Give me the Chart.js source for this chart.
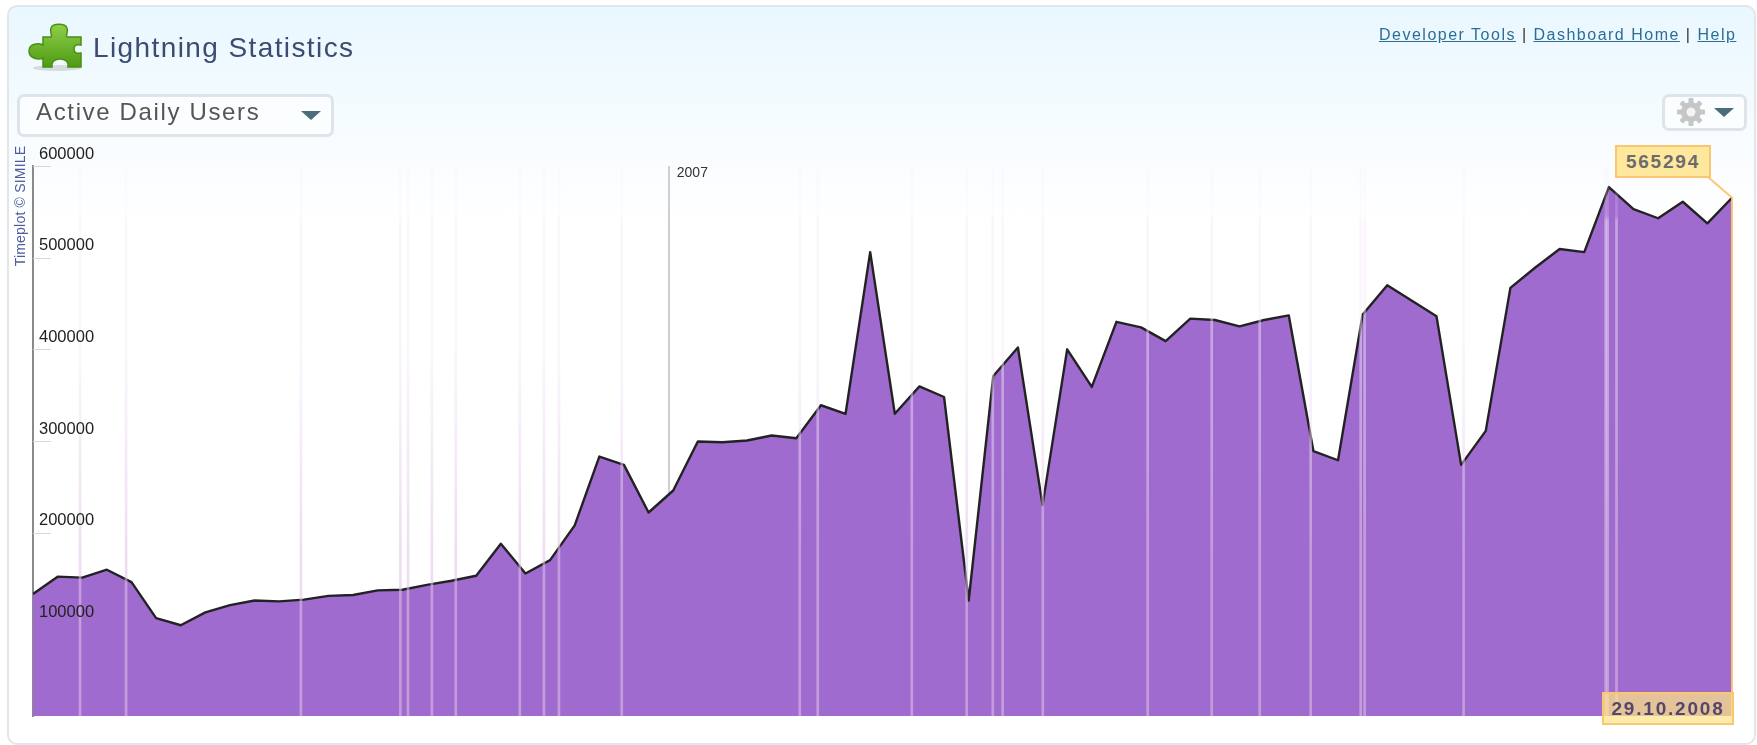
<!DOCTYPE html>
<html>
<head>
<meta charset="utf-8">
<title>Lightning Statistics</title>
<script src="https://cdn.jsdelivr.net/npm/chart.js@4/dist/chart.umd.min.js"></script>
<style>
  html, body { margin: 0; padding: 0; background: #fff; overflow: hidden; }
  body { width: 1757px; height: 745px; position: relative; font-family: "Liberation Sans", sans-serif; }
  #page { position: absolute; left: 0; top: 0; width: 1757px; height: 745px; filter: blur(0.5px); }
  #card { position: absolute; left: 7px; top: 5px; width: 1745px; height: 736px; border: 2px solid #e2e6ea; border-radius: 10px;
    background: linear-gradient(to bottom, #e9f7ff 0, #f6fcff 120px, #fbfdff 170px, #fff 215px, #fff 100%); }
  #chartBox { position: absolute; left: 0; top: 0; width: 1757px; height: 745px; }
  .abs { position: absolute; white-space: nowrap; }
  #title { left: 93px; top: 31px; font-size: 28px; line-height: 34px; color: #3b4c70; letter-spacing: 1.4px; }
  #links { left: 1379px; top: 26px; font-size: 16px; line-height: 18px; color: #333; letter-spacing: 1.5px; }
  #links a { color: #2c6d96; text-decoration: underline; }
  .box { position: absolute; border: 3px solid #dfe4e8; border-radius: 7px; background: rgba(255,255,255,.6); box-sizing: border-box; }
  #select { left: 17px; top: 94px; width: 317px; height: 43px; }
  #selectText { left: 36px; top: 97px; font-size: 24px; line-height: 30px; color: #555; letter-spacing: 1.65px; }
  #gear { left: 1662px; top: 94px; width: 85px; height: 37px; }
  .arrow { position: absolute; width: 0; height: 0; border-left: 10px solid transparent; border-right: 10px solid transparent; border-top: 9px solid #4c6c7a; }
  #credit { left: 20px; top: 206px; font-size: 14px; line-height: 14px; color: #4c5c9c; letter-spacing: .2px; transform: translate(-50%, -50%) rotate(-90deg); }
  .tag { position: absolute; box-sizing: border-box; border: 2px solid #fbc670; text-align: center; font-weight: bold; font-size: 19px; letter-spacing: 1.8px; }
  #valueTag { left: 1615px; top: 145px; width: 96px; height: 33px; line-height: 30px; background: #fee89e; color: #6c6c6c; }
  #dateTag { left: 1602px; top: 692px; width: 132px; height: 33px; line-height: 30px; background: rgba(255,229,135,.72); color: #55466a; }
</style>
</head>
<body>
<div id="page">
<div id="card"></div>

<svg class="abs" style="left:27px;top:22px" width="58" height="50" viewBox="0 0 58 50">
  <defs><linearGradient id="pz" x1="0" y1="0" x2="0" y2="1"><stop offset="0" stop-color="#8fcf4a"/><stop offset="1" stop-color="#4f9a14"/></linearGradient></defs>
  <ellipse cx="30" cy="46" rx="24" ry="3" fill="#bbb" opacity=".5"/>
  <path d="M16 15 H24 C26 13 22 10 24 6 C26 1 38 1 40 6 C42 10 38 13 40 15 H54 V23 C50 22 47 23 47 27 C47 31 50 32 54 31 V45 H41 C42 42 40 37 33 37 C26 37 24 42 25 45 H16 V36 C12 38 2 37 2 29 C2 21 12 21 16 23 Z" fill="url(#pz)" stroke="#4a8f12" stroke-width="1.5"/>
</svg>
<div id="title" class="abs">Lightning Statistics</div>
<div id="links" class="abs"><a>Developer Tools</a> | <a>Dashboard Home</a> | <a>Help</a></div>

<div id="select" class="box"></div>
<div id="selectText" class="abs">Active Daily Users</div>
<div class="arrow" style="left:301px;top:111px"></div>

<div id="gear" class="box"></div>
<svg class="abs" style="left:1675px;top:98px" width="32" height="28" viewBox="-15 -14 30 28">
  <g fill="#c6c6c6">
    <circle r="10"/>
    <rect x="-2.5" y="-14" width="5" height="28" rx="1"/>
    <rect x="-2.5" y="-14" width="5" height="28" rx="1" transform="rotate(45)"/>
    <rect x="-2.5" y="-14" width="5" height="28" rx="1" transform="rotate(90)"/>
    <rect x="-2.5" y="-14" width="5" height="28" rx="1" transform="rotate(135)"/>
  </g>
  <circle r="4.5" fill="#f4f4f4"/>
</svg>
<div class="arrow" style="left:1714px;top:108px"></div>

<div id="credit" class="abs">Timeplot © SIMILE</div>

<div id="chartBox"><canvas id="usersChart" width="1757" height="745"></canvas></div>

<div id="valueTag" class="tag"></div>
<div id="dateTag" class="tag"></div>
</div>

<script>
// values, one per sample along the x axis
var dailyUsers = [
  133000, 152000, 151000, 159600, 146000, 106700, 99000, 113000, 121000, 126000,
  125000, 127000, 131000, 132000, 137000, 137700, 143000, 147500, 153000, 188000,
  155500, 170000, 208000, 283000, 274000, 222000, 246000, 299400, 298700, 300500,
  306000, 303000, 339000, 329700, 506000, 329700, 359600, 348000, 126000, 371000,
  402000, 230000, 400000, 359000, 430000, 424000, 409000, 433500, 432000, 425000,
  432000, 437000, 289000, 279000, 438000, 470000, 453000, 436000, 274000, 311000,
  467000, 489000, 509500, 506000, 577000, 553000, 543000, 561000, 537500, 565294
];
// event markers, in sample units
var eventPositions = [
  1.91, 3.78, 10.88, 14.92, 15.23, 16.2, 17.17, 19.77, 20.75, 21.36, 23.91, 31.14, 31.87, 35.69,
  37.92, 38.98, 39.38, 41.01, 45.27, 47.87, 49.82, 51.89, 53.92, 54.08, 58.1, 63.87, 63.95, 64.31
];
var yTicks = [100000, 200000, 300000, 400000, 500000, 600000];
var yearTicks = [25.82];
var yearLabels = ['2007'];
var lastDate = '29.10.2008';

var linePoints = dailyUsers.map(function(v, i) { return { x: i, y: v }; });
var eventBars = eventPositions.map(function(p) { return { x: p, y: 600000 }; });

document.getElementById('valueTag').textContent = dailyUsers[dailyUsers.length - 1];
document.getElementById('dateTag').textContent = lastDate;

// pale over white, clearly visible over the purple fill
function eventColor(context) {
  var area = context.chart.chartArea;
  if (!area) return 'rgba(225,195,230,0.5)';
  var g = context.chart.ctx.createLinearGradient(0, area.top, 0, area.bottom);
  g.addColorStop(0, 'rgba(245,235,248,0.15)');
  g.addColorStop(0.09, 'rgba(245,235,248,0.2)');
  g.addColorStop(0.1, 'rgba(245,235,248,0.45)');
  g.addColorStop(0.33, 'rgba(245,235,248,0.45)');
  g.addColorStop(0.7, 'rgba(225,195,230,0.56)');
  g.addColorStop(1, 'rgba(225,195,230,0.56)');
  return g;
}

// short tick marks inside the plot, and the orange cursor on the last sample
var timeplotMarks = {
  id: 'timeplotMarks',
  beforeDatasetsDraw: function(chart) {
    var c = chart.ctx, ys = chart.scales.y, left = chart.chartArea.left;
    c.save();
    c.strokeStyle = '#d8d8d8';
    c.lineWidth = 1;
    yTicks.forEach(function(t) {
      var py = Math.round(ys.getPixelForValue(t)) + 0.5;
      c.beginPath();
      c.moveTo(left, py);
      c.lineTo(left + 18, py);
      c.stroke();
    });
    c.restore();
  },
  afterDatasetsDraw: function(chart) {
    var c = chart.ctx, xs = chart.scales.x, ys = chart.scales.y;
    var last = dailyUsers.length - 1;
    var px = xs.getPixelForValue(last), py = ys.getPixelForValue(dailyUsers[last]);
    c.save();
    c.strokeStyle = 'rgba(253,196,112,0.95)';
    c.lineWidth = 2;
    c.beginPath();
    c.moveTo(1708, 177);
    c.lineTo(px, py);
    c.lineTo(px, ys.getPixelForValue(0));
    c.stroke();
    c.restore();
  }
};

new Chart(document.getElementById('usersChart').getContext('2d'), {
  data: {
    datasets: [
      {
        type: 'bar',
        label: 'Events',
        data: eventBars,
        backgroundColor: eventColor,
        borderWidth: 0,
        barThickness: 2,
        grouped: false,
        order: 0
      },
      {
        type: 'line',
        label: 'Active Daily Users',
        data: linePoints,
        borderColor: '#222',
        borderWidth: 2.4,
        borderJoinStyle: 'round',
        backgroundColor: '#9f6bce',
        fill: 'origin',
        pointRadius: 0,
        tension: 0,
        order: 1
      }
    ]
  },
  options: {
    responsive: false,
    animation: false,
    events: [],
    layout: { padding: { left: 33, top: 166, right: 25, bottom: 29 } },
    plugins: { legend: { display: false }, tooltip: { enabled: false } },
    scales: {
      x: {
        type: 'linear',
        position: 'top',
        offset: false,
        min: 0,
        max: dailyUsers.length - 1,
        afterFit: function(s) { s.height = 0; },
        afterBuildTicks: function(s) { s.ticks = yearTicks.map(function(v) { return { value: v }; }); },
        grid: { color: '#cfcfcf', lineWidth: 2, drawTicks: false, offset: false },
        border: { display: false },
        ticks: {
          autoSkip: false,
          maxRotation: 0,
          mirror: true,
          align: 'start',
          padding: -1,
          labelOffset: 8,
          color: '#333',
          font: { family: 'Liberation Sans', size: 14 },
          callback: function(v) { return yearLabels[yearTicks.indexOf(v)]; }
        }
      },
      y: {
        type: 'linear',
        position: 'left',
        min: 0,
        max: 600000,
        afterFit: function(s) { s.width = 0; },
        afterBuildTicks: function(s) { s.ticks = yTicks.map(function(v) { return { value: v }; }); },
        grid: { display: false },
        border: { display: true, color: '#8a8a8a', width: 2 },
        ticks: {
          mirror: true,
          padding: 6,
          labelOffset: -12,
          z: 1,
          color: '#222',
          font: { family: 'Liberation Sans', size: 16.5 },
          callback: function(v) { return String(v); }
        }
      }
    }
  },
  plugins: [timeplotMarks]
});
</script>
</body>
</html>
